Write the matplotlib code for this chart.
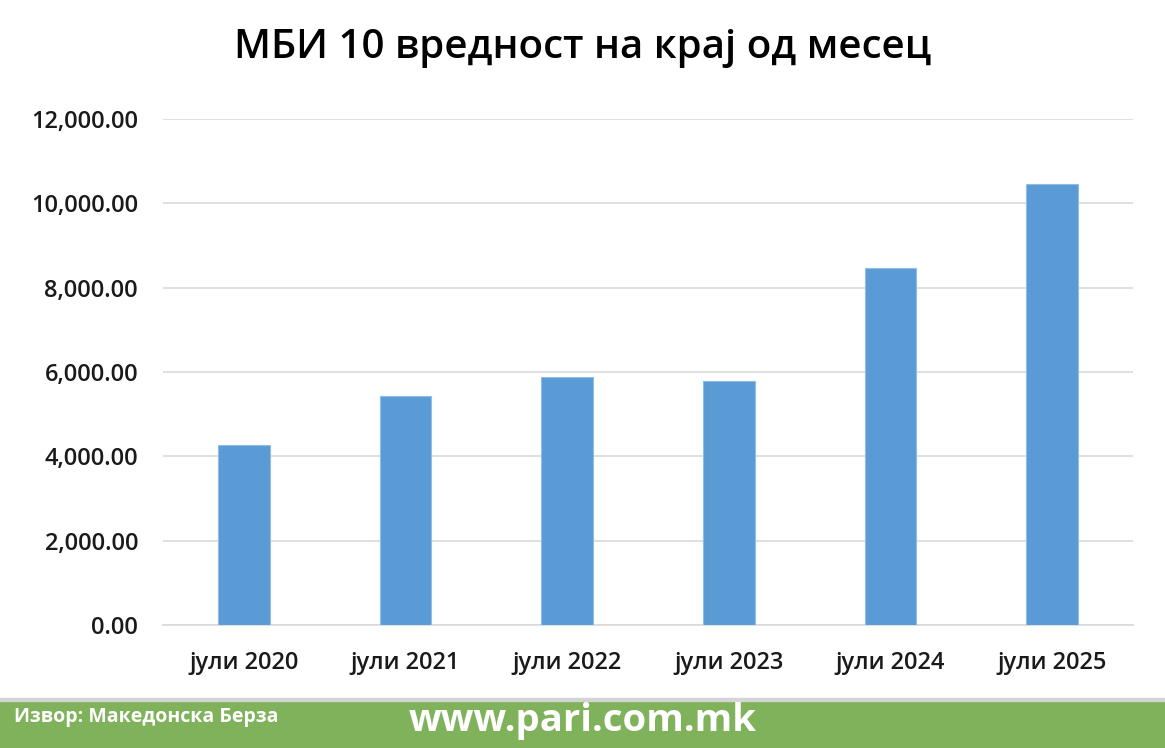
import matplotlib.pyplot as plt
import numpy as np
from matplotlib.ticker import FuncFormatter
from matplotlib.patches import Rectangle

plt.rcParams['font.family'] = ['Open Sans', 'DejaVu Sans']

labels = ['јули 2020', 'јули 2021', 'јули 2022', 'јули 2023', 'јули 2024', 'јули 2025']
values = [4268, 5431, 5875, 5780, 8463, 10470]
title = 'МБИ 10 вредност на крај од месец'
source = 'Извор: Македонска Берза'
site = 'www.pari.com.mk'

fig = plt.figure(figsize=(11.65, 7.48), dpi=100)
W, H = 1165, 748
ax = fig.add_axes([163 / W, 1 - 625 / H, (1133 - 163) / W, (625 - 119) / H])

x = np.arange(len(labels))
ax.bar(x, values, width=0.32, color='#5b9bd5', edgecolor='#8fbde6', linewidth=0.8, zorder=3)
ax.set_xlim(-0.5, len(labels) - 0.5)
ax.set_ylim(0, 12000)
ax.set_yticks(np.arange(0, 12001, 2000))
ax.yaxis.set_major_formatter(FuncFormatter(lambda v, p: '{:,.2f}'.format(v)))
ax.set_xticks(x)
ax.set_xticklabels(labels)
ax.grid(axis='y', color='#d9d9d9', linewidth=1.2, zorder=0)
for s in ['top', 'right', 'left']:
    ax.spines[s].set_visible(False)
ax.spines['bottom'].set_color('#d9d9d9')
ax.spines['bottom'].set_linewidth(1.2)
ax.tick_params(axis='both', length=0, labelsize=17, colors='#1a1a1a')
for t in ax.get_xticklabels() + ax.get_yticklabels():
    t.set_fontweight('semibold')
ax.tick_params(axis='y', pad=18)
ax.tick_params(axis='x', pad=19)

fig.text(583 / W, 1 - 48 / H, title, ha='center', va='center', fontsize=29,
         fontweight='semibold', color='black')

# footer band
fig.patches.append(Rectangle((0, 0), 1, 47 / H, transform=fig.transFigure, color='#80b25b', zorder=0))
fig.patches.append(Rectangle((0, 47 / H), 1, 3 / H, transform=fig.transFigure, color='#d4d4d4', zorder=0))
fig.text(14 / W, 1 - 717 / H, source, ha='left', va='center', fontsize=14,
         fontweight='bold', color='white')
fig.text(583 / W, 1 - 721 / H, site, ha='center', va='center', fontsize=27.5,
         fontweight='bold', color='white')

fig.savefig('out.png', dpi=100, facecolor='white')
